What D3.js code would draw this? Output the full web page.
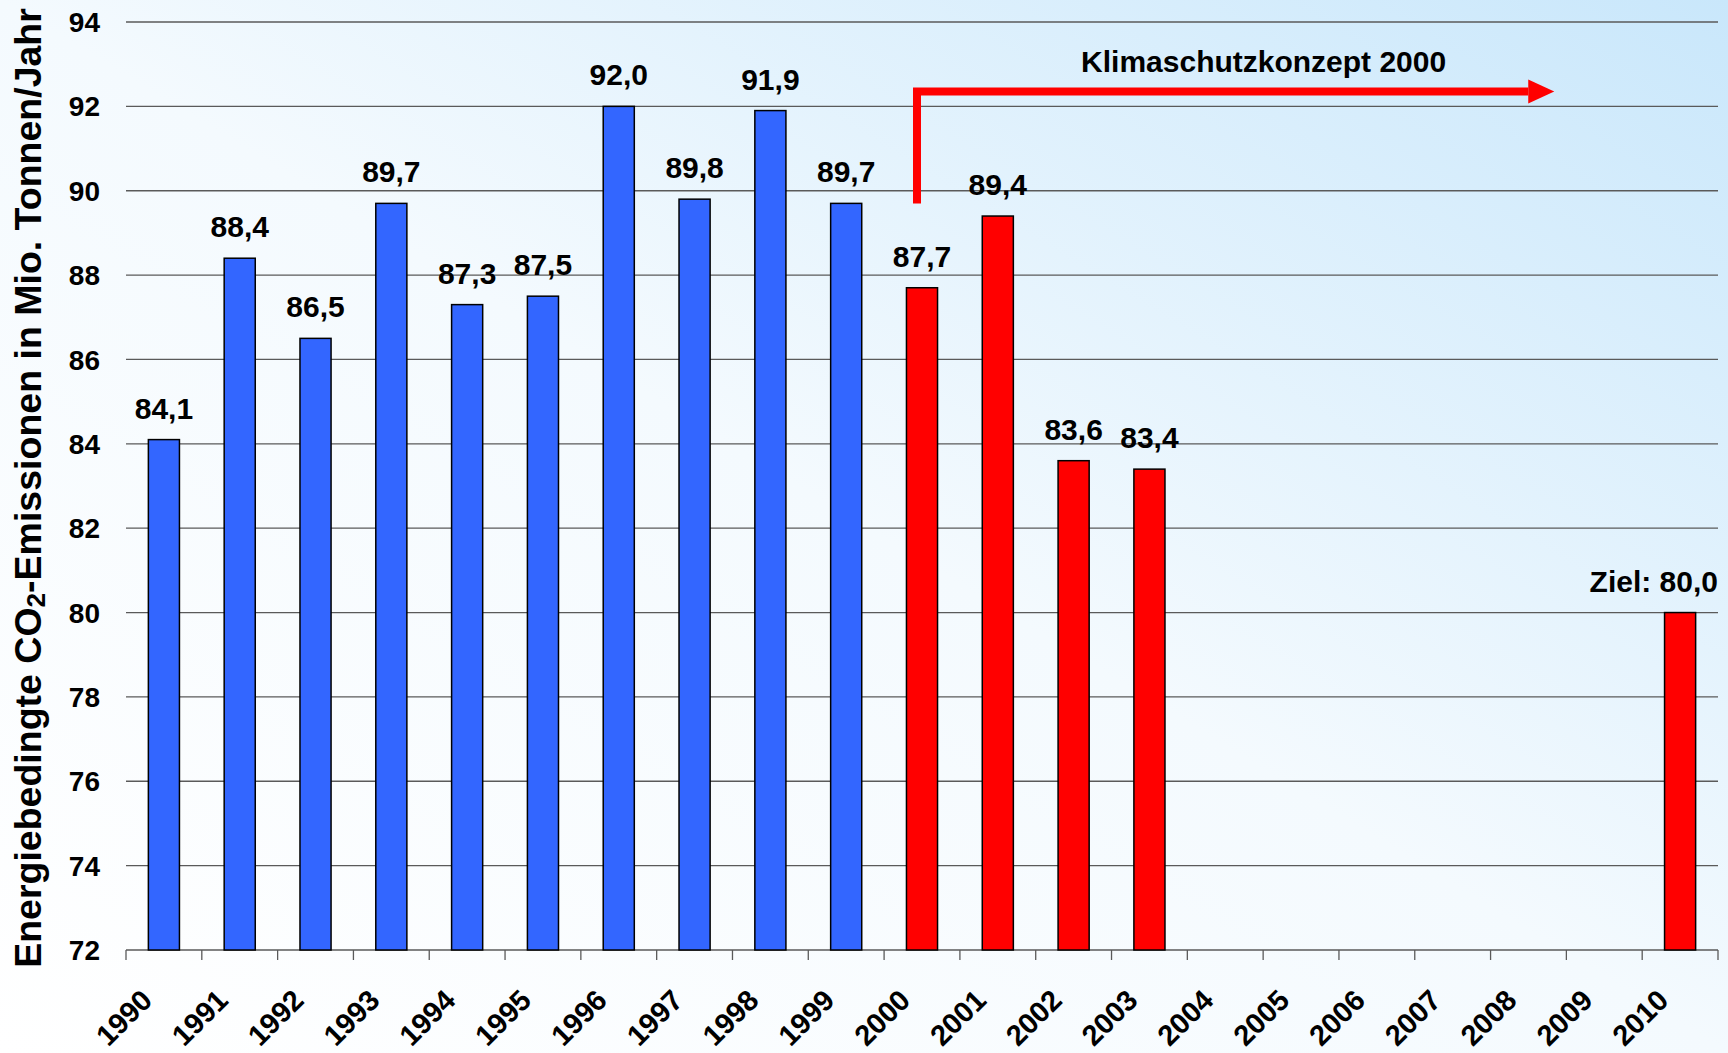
<!DOCTYPE html>
<html>
<head>
<meta charset="utf-8">
<script src="https://cdn.jsdelivr.net/npm/d3@7"></script>
<style>
  html, body { margin: 0; padding: 0; background: #fff; }
  svg { display: block; font-family: "Liberation Sans", Arial, sans-serif; font-weight: bold; }
</style>
</head>
<body>
<script>
// data
const years = d3.range(1990, 2011).map(String);
const barYears = ['1990', '1991', '1992', '1993', '1994', '1995', '1996', '1997', '1998', '1999',
  '2000', '2001', '2002', '2003', '2010'];
const emissions = [84.1, 88.4, 86.5, 89.7, 87.3, 87.5, 92.0, 89.8, 91.9, 89.7,
  87.7, 89.4, 83.6, 83.4, 80.0];
const yTicks = d3.range(72, 95, 2);

// constants
const width = 1728;
const height = 1053;
const margin = { top: 22, right: 10, bottom: 103, left: 126 };

const fmt = (v) => d3.format('.1f')(v).replace('.', ',');

const svg = d3.select('body').append('svg')
  .attr('width', width)
  .attr('height', height);

// background gradient: white bottom-left -> light blue top-right
const grad = svg.append('defs').append('linearGradient')
  .attr('id', 'bg')
  .attr('x1', '0%').attr('y1', '100%')
  .attr('x2', '100%').attr('y2', '0%');
grad.append('stop').attr('offset', '0%').attr('stop-color', '#ffffff');
grad.append('stop').attr('offset', '50%').attr('stop-color', '#f4fafe');
grad.append('stop').attr('offset', '100%').attr('stop-color', '#c9e7fb');

svg.append('rect')
  .attr('width', width)
  .attr('height', height)
  .attr('fill', 'url(#bg)');

const x = d3.scaleBand()
  .domain(years)
  .range([margin.left, width - margin.right])
  .padding(0);

const y = d3.scaleLinear()
  .domain([72, 94])
  .range([height - margin.bottom, margin.top]);

const barW = x.bandwidth() * 0.41;
const cx = (d) => x(d) + x.bandwidth() / 2;

// gridlines
svg.append('g')
  .selectAll('line')
  .data(yTicks)
  .join('line')
  .attr('x1', margin.left)
  .attr('x2', width - margin.right)
  .attr('y1', (d) => y(d))
  .attr('y2', (d) => y(d))
  .attr('stroke', '#5a5a5a')
  .attr('stroke-width', 1.3);

// y tick labels
svg.append('g')
  .selectAll('text')
  .data(yTicks)
  .join('text')
  .attr('x', 100)
  .attr('y', (d) => y(d))
  .attr('dy', '0.36em')
  .attr('text-anchor', 'end')
  .attr('font-size', 28)
  .text((d) => d);

// x axis ticks at category boundaries
svg.append('g')
  .selectAll('line')
  .data(years.concat(['end']))
  .join('line')
  .attr('x1', (d) => (d === 'end' ? width - margin.right : x(d)))
  .attr('x2', (d) => (d === 'end' ? width - margin.right : x(d)))
  .attr('y1', y(72))
  .attr('y2', y(72) + 10)
  .attr('stroke', '#5a5a5a')
  .attr('stroke-width', 1.3);

// x labels
svg.append('g')
  .selectAll('text')
  .data(years)
  .join('text')
  .attr('transform', (d) => `translate(${cx(d) - 10},${y(72) + 52}) rotate(-45)`)
  .attr('text-anchor', 'end')
  .attr('font-size', 29)
  .text((d) => d);

// bars
svg.append('g')
  .selectAll('rect')
  .data(barYears)
  .join('rect')
  .attr('x', (d) => cx(d) - barW / 2)
  .attr('y', (d, i) => y(emissions[i]))
  .attr('width', barW)
  .attr('height', (d, i) => y(72) - y(emissions[i]))
  .attr('fill', (d) => (+d < 2000 ? '#3366ff' : '#ff0000'))
  .attr('stroke', '#000')
  .attr('stroke-width', 1.5);

// value labels
svg.append('g')
  .selectAll('text')
  .data(barYears)
  .join('text')
  .attr('x', (d) => (d === '2010' ? width - margin.right : cx(d)))
  .attr('y', (d, i) => y(emissions[i]) - 21)
  .attr('text-anchor', (d) => (d === '2010' ? 'end' : 'middle'))
  .attr('font-size', 30)
  .text((d, i) => (d === '2010' ? `Ziel: ${fmt(emissions[i])}` : fmt(emissions[i])));

// Klimaschutzkonzept arrow
const ax0 = cx('2000') - 5;
const ayTop = y(92.35);
const tipX = x('2008') + x.bandwidth() * 0.84;
const headL = 26;
svg.append('path')
  .attr('d', `M${ax0},${y(89.7)} L${ax0},${ayTop} L${tipX - headL},${ayTop}`)
  .attr('fill', 'none')
  .attr('stroke', '#ff0000')
  .attr('stroke-width', 8)
  .attr('stroke-linejoin', 'miter');
svg.append('path')
  .attr('d', `M${tipX - headL},${ayTop - 12} L${tipX},${ayTop} L${tipX - headL},${ayTop + 12} Z`)
  .attr('fill', '#ff0000');

svg.append('text')
  .attr('x', (ax0 + tipX) / 2 + 28)
  .attr('y', ayTop - 20)
  .attr('text-anchor', 'middle')
  .attr('font-size', 30)
  .text('Klimaschutzkonzept 2000');

// y axis title
const title = svg.append('text')
  .attr('transform', `translate(41,${(margin.top + height - margin.bottom) / 2 + 2}) rotate(-90)`)
  .attr('text-anchor', 'middle')
  .attr('font-size', 37.5);
title.append('tspan').text('Energiebedingte CO');
title.append('tspan').attr('font-size', 26).attr('dy', 4).text('2');
title.append('tspan').attr('dy', -4).text('-Emissionen in Mio. Tonnen/Jahr');
</script>
</body>
</html>
